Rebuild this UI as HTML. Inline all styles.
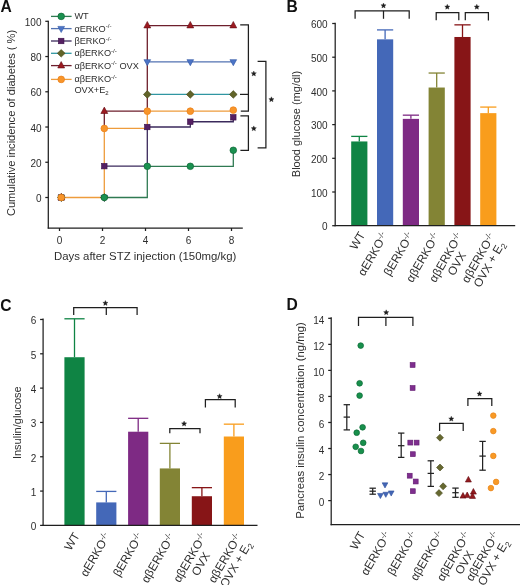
<!DOCTYPE html>
<html><head><meta charset="utf-8"><style>
html,body{margin:0;padding:0;background:#fff;}
svg{display:block;font-family:"Liberation Sans", sans-serif;will-change:transform;}
</style></head><body>
<svg width="520" height="585" viewBox="0 0 520 585">
<rect width="520" height="585" fill="#fff"/>
<text transform="translate(0.5 11.6) scale(0.93 1)" font-size="16.8" font-weight="bold" fill="#111">A</text>
<line x1="48.30" y1="20.70" x2="48.30" y2="228.60" stroke="#1f1f1f" stroke-width="1.25" />
<line x1="47.70" y1="228.00" x2="242.80" y2="228.00" stroke="#1f1f1f" stroke-width="1.25" />
<line x1="45.30" y1="197.50" x2="48.30" y2="197.50" stroke="#1f1f1f" stroke-width="1.25" />
<text x="41.50" y="202.10" font-size="10" text-anchor="end" fill="#2e2e2e" font-weight="normal" >0</text>
<line x1="45.30" y1="162.26" x2="48.30" y2="162.26" stroke="#1f1f1f" stroke-width="1.25" />
<text x="41.50" y="166.86" font-size="10" text-anchor="end" fill="#2e2e2e" font-weight="normal" >20</text>
<line x1="45.30" y1="127.02" x2="48.30" y2="127.02" stroke="#1f1f1f" stroke-width="1.25" />
<text x="41.50" y="131.62" font-size="10" text-anchor="end" fill="#2e2e2e" font-weight="normal" >40</text>
<line x1="45.30" y1="91.78" x2="48.30" y2="91.78" stroke="#1f1f1f" stroke-width="1.25" />
<text x="41.50" y="96.38" font-size="10" text-anchor="end" fill="#2e2e2e" font-weight="normal" >60</text>
<line x1="45.30" y1="56.54" x2="48.30" y2="56.54" stroke="#1f1f1f" stroke-width="1.25" />
<text x="41.50" y="61.14" font-size="10" text-anchor="end" fill="#2e2e2e" font-weight="normal" >80</text>
<line x1="45.30" y1="21.30" x2="48.30" y2="21.30" stroke="#1f1f1f" stroke-width="1.25" />
<text x="41.50" y="25.90" font-size="10" text-anchor="end" fill="#2e2e2e" font-weight="normal" >100</text>
<line x1="59.50" y1="228.00" x2="59.50" y2="231.00" stroke="#1f1f1f" stroke-width="1.25" />
<text x="59.50" y="244.20" font-size="10" text-anchor="middle" fill="#2e2e2e" font-weight="normal" >0</text>
<line x1="102.50" y1="228.00" x2="102.50" y2="231.00" stroke="#1f1f1f" stroke-width="1.25" />
<text x="102.50" y="244.20" font-size="10" text-anchor="middle" fill="#2e2e2e" font-weight="normal" >2</text>
<line x1="145.50" y1="228.00" x2="145.50" y2="231.00" stroke="#1f1f1f" stroke-width="1.25" />
<text x="145.50" y="244.20" font-size="10" text-anchor="middle" fill="#2e2e2e" font-weight="normal" >4</text>
<line x1="188.50" y1="228.00" x2="188.50" y2="231.00" stroke="#1f1f1f" stroke-width="1.25" />
<text x="188.50" y="244.20" font-size="10" text-anchor="middle" fill="#2e2e2e" font-weight="normal" >6</text>
<line x1="231.50" y1="228.00" x2="231.50" y2="231.00" stroke="#1f1f1f" stroke-width="1.25" />
<text x="231.50" y="244.20" font-size="10" text-anchor="middle" fill="#2e2e2e" font-weight="normal" >8</text>
<text x="54.00" y="260.00" font-size="11.4" text-anchor="start" fill="#2e2e2e" font-weight="normal" >Days after STZ injection (150mg/kg)</text>
<text x="15.40" y="123.00" font-size="11.1" text-anchor="middle" fill="#2e2e2e" font-weight="normal" transform="rotate(-90 15.40 123.00)" >Cumulative incidence of diabetes ( %)</text>
<polyline points="147.30,61.83 233.30,61.83" fill="none" stroke="#5272b2" stroke-width="1.3" stroke-linejoin="miter"/>
<polyline points="147.30,94.42 233.30,94.42" fill="none" stroke="#3096a2" stroke-width="1.3" stroke-linejoin="miter"/>
<polyline points="104.30,197.50 147.30,197.50 147.30,166.31 233.30,166.31 233.30,150.28" fill="none" stroke="#2f7a52" stroke-width="1.3" stroke-linejoin="miter"/>
<polyline points="104.30,166.14 147.30,166.14 147.30,127.02 190.30,127.02 190.30,121.73 233.30,121.73 233.30,117.33" fill="none" stroke="#3b2a5c" stroke-width="1.3" stroke-linejoin="miter"/>
<polyline points="104.30,128.43 104.30,111.16 147.30,111.16 147.30,25.53 233.30,25.53" fill="none" stroke="#6e1f2c" stroke-width="1.3" stroke-linejoin="miter"/>
<polyline points="61.30,197.50 104.30,197.50 104.30,128.43 147.30,128.43 147.30,111.16 233.30,111.16 233.30,110.10" fill="none" stroke="#ee9c3c" stroke-width="1.3" stroke-linejoin="miter"/>
<polygon points="57.95,195.30 64.65,195.30 61.30,201.40" fill="#4c74c6" stroke="#3158a6" stroke-width="0.6" stroke-linejoin="miter"/>
<polygon points="100.95,195.30 107.65,195.30 104.30,201.40" fill="#4c74c6" stroke="#3158a6" stroke-width="0.6" stroke-linejoin="miter"/>
<polygon points="143.95,59.63 150.65,59.63 147.30,65.73" fill="#4c74c6" stroke="#3158a6" stroke-width="0.6" stroke-linejoin="miter"/>
<polygon points="186.95,59.63 193.65,59.63 190.30,65.73" fill="#4c74c6" stroke="#3158a6" stroke-width="0.6" stroke-linejoin="miter"/>
<polygon points="229.95,59.63 236.65,59.63 233.30,65.73" fill="#4c74c6" stroke="#3158a6" stroke-width="0.6" stroke-linejoin="miter"/>
<polygon points="61.30,193.70 65.20,197.50 61.30,201.30 57.40,197.50" fill="#626429" stroke="#45481a" stroke-width="0.6" stroke-linejoin="miter"/>
<polygon points="104.30,193.70 108.20,197.50 104.30,201.30 100.40,197.50" fill="#626429" stroke="#45481a" stroke-width="0.6" stroke-linejoin="miter"/>
<polygon points="147.30,90.62 151.20,94.42 147.30,98.22 143.40,94.42" fill="#626429" stroke="#45481a" stroke-width="0.6" stroke-linejoin="miter"/>
<polygon points="190.30,90.62 194.20,94.42 190.30,98.22 186.40,94.42" fill="#626429" stroke="#45481a" stroke-width="0.6" stroke-linejoin="miter"/>
<polygon points="233.30,90.62 237.20,94.42 233.30,98.22 229.40,94.42" fill="#626429" stroke="#45481a" stroke-width="0.6" stroke-linejoin="miter"/>
<rect x="58.55" y="194.75" width="5.50" height="5.50" fill="#552063" stroke="#3a0f48" stroke-width="0.6" stroke-linejoin="miter"/>
<rect x="101.55" y="163.39" width="5.50" height="5.50" fill="#552063" stroke="#3a0f48" stroke-width="0.6" stroke-linejoin="miter"/>
<rect x="144.55" y="124.27" width="5.50" height="5.50" fill="#552063" stroke="#3a0f48" stroke-width="0.6" stroke-linejoin="miter"/>
<rect x="187.55" y="118.98" width="5.50" height="5.50" fill="#552063" stroke="#3a0f48" stroke-width="0.6" stroke-linejoin="miter"/>
<rect x="230.55" y="114.58" width="5.50" height="5.50" fill="#552063" stroke="#3a0f48" stroke-width="0.6" stroke-linejoin="miter"/>
<circle cx="61.30" cy="197.50" r="3.30" fill="#1a9150" stroke="#0e6635" stroke-width="0.7"/>
<circle cx="104.30" cy="197.50" r="3.30" fill="#1a9150" stroke="#0e6635" stroke-width="0.7"/>
<circle cx="147.30" cy="166.31" r="3.30" fill="#1a9150" stroke="#0e6635" stroke-width="0.7"/>
<circle cx="190.30" cy="166.31" r="3.30" fill="#1a9150" stroke="#0e6635" stroke-width="0.7"/>
<circle cx="233.30" cy="150.28" r="3.30" fill="#1a9150" stroke="#0e6635" stroke-width="0.7"/>
<polygon points="61.30,193.45 64.75,199.85 57.85,199.85" fill="#9c1a20" stroke="#620a12" stroke-width="0.6" stroke-linejoin="miter"/>
<polygon points="104.30,107.11 107.75,113.51 100.85,113.51" fill="#9c1a20" stroke="#620a12" stroke-width="0.6" stroke-linejoin="miter"/>
<polygon points="147.30,21.48 150.75,27.88 143.85,27.88" fill="#9c1a20" stroke="#620a12" stroke-width="0.6" stroke-linejoin="miter"/>
<polygon points="190.30,21.48 193.75,27.88 186.85,27.88" fill="#9c1a20" stroke="#620a12" stroke-width="0.6" stroke-linejoin="miter"/>
<polygon points="233.30,21.48 236.75,27.88 229.85,27.88" fill="#9c1a20" stroke="#620a12" stroke-width="0.6" stroke-linejoin="miter"/>
<circle cx="61.30" cy="197.50" r="3.35" fill="#f8952a" stroke="#e9801a" stroke-width="0.7"/>
<circle cx="104.30" cy="128.43" r="3.35" fill="#f8952a" stroke="#e9801a" stroke-width="0.7"/>
<circle cx="147.30" cy="111.16" r="3.35" fill="#f8952a" stroke="#e9801a" stroke-width="0.7"/>
<circle cx="190.30" cy="111.16" r="3.35" fill="#f8952a" stroke="#e9801a" stroke-width="0.7"/>
<circle cx="233.30" cy="110.10" r="3.35" fill="#f8952a" stroke="#e9801a" stroke-width="0.7"/>
<line x1="51.00" y1="16.40" x2="71.60" y2="16.40" stroke="#2f7a52" stroke-width="1.3" />
<circle cx="61.20" cy="16.40" r="3.30" fill="#1a9150" stroke="#0e6635" stroke-width="0.7"/>
<text x="74.40" y="19.40" font-size="9.2" text-anchor="start" fill="#2e2e2e" font-weight="normal" >WT</text>
<line x1="51.00" y1="28.60" x2="71.60" y2="28.60" stroke="#5272b2" stroke-width="1.3" />
<polygon points="57.85,26.40 64.55,26.40 61.20,32.50" fill="#4c74c6" stroke="#3158a6" stroke-width="0.6" stroke-linejoin="miter"/>
<text x="74.4" y="31.60" font-size="9.2" fill="#2e2e2e">αERKO<tspan font-size="6.2" dy="-3.4">-/-</tspan></text>
<line x1="51.00" y1="41.00" x2="71.60" y2="41.00" stroke="#3b2a5c" stroke-width="1.3" />
<rect x="58.45" y="38.25" width="5.50" height="5.50" fill="#552063" stroke="#3a0f48" stroke-width="0.6" stroke-linejoin="miter"/>
<text x="74.4" y="44.00" font-size="9.2" fill="#2e2e2e">βERKO<tspan font-size="6.2" dy="-3.4">-/-</tspan></text>
<line x1="51.00" y1="53.30" x2="71.60" y2="53.30" stroke="#3096a2" stroke-width="1.3" />
<polygon points="61.20,49.50 65.10,53.30 61.20,57.10 57.30,53.30" fill="#626429" stroke="#45481a" stroke-width="0.6" stroke-linejoin="miter"/>
<text x="74.4" y="56.30" font-size="9.2" fill="#2e2e2e">αβERKO<tspan font-size="6.2" dy="-3.4">-/-</tspan></text>
<line x1="51.00" y1="65.60" x2="71.60" y2="65.60" stroke="#6e1f2c" stroke-width="1.3" />
<polygon points="61.20,61.55 64.65,67.95 57.75,67.95" fill="#9c1a20" stroke="#620a12" stroke-width="0.6" stroke-linejoin="miter"/>
<text x="74.4" y="68.60" font-size="9.2" fill="#2e2e2e">αβERKO<tspan font-size="6.2" dy="-3.4">-/-</tspan><tspan dy="3.4"> OVX</tspan></text>
<line x1="51.00" y1="79.40" x2="71.60" y2="79.40" stroke="#ee9c3c" stroke-width="1.3" />
<circle cx="61.20" cy="79.40" r="3.35" fill="#f8952a" stroke="#e9801a" stroke-width="0.7"/>
<text x="74.4" y="82.40" font-size="9.2" fill="#2e2e2e">αβERKO<tspan font-size="6.2" dy="-3.4">-/-</tspan></text>
<text x="74.4" y="93.0" font-size="9.2" fill="#2e2e2e">OVX+E<tspan font-size="6" dy="2">2</tspan></text>
<polyline points="240.20,24.90 248.40,24.90 248.40,111.20 240.80,111.20" fill="none" stroke="#1f1f1f" stroke-width="1.25" stroke-linejoin="miter"/>
<line x1="240.00" y1="94.40" x2="248.40" y2="94.40" stroke="#1f1f1f" stroke-width="1.25" />
<polyline points="257.60,61.30 265.90,61.30 265.90,147.80 257.60,147.80" fill="none" stroke="#1f1f1f" stroke-width="1.25" stroke-linejoin="miter"/>
<polyline points="240.40,115.80 248.40,115.80 248.40,150.40 240.40,150.40" fill="none" stroke="#1f1f1f" stroke-width="1.25" stroke-linejoin="miter"/>
<polygon points="253.80,71.00 254.53,72.69 256.37,72.87 254.99,74.09 255.39,75.88 253.80,74.95 252.21,75.88 252.61,74.09 251.23,72.87 253.07,72.69" fill="#1e1e1e" stroke="#1e1e1e" stroke-width="0.35" stroke-linejoin="round"/>
<polygon points="271.40,96.80 272.13,98.49 273.97,98.67 272.59,99.89 272.99,101.68 271.40,100.75 269.81,101.68 270.21,99.89 268.83,98.67 270.67,98.49" fill="#1e1e1e" stroke="#1e1e1e" stroke-width="0.35" stroke-linejoin="round"/>
<polygon points="253.80,125.90 254.53,127.59 256.37,127.77 254.99,128.99 255.39,130.78 253.80,129.85 252.21,130.78 252.61,128.99 251.23,127.77 253.07,127.59" fill="#1e1e1e" stroke="#1e1e1e" stroke-width="0.35" stroke-linejoin="round"/>
<text transform="translate(286.6 11.8) scale(0.93 1)" font-size="16.8" font-weight="bold" fill="#111">B</text>
<line x1="332.20" y1="225.70" x2="335.20" y2="225.70" stroke="#1f1f1f" stroke-width="1.25" />
<text x="327.60" y="230.30" font-size="10" text-anchor="end" fill="#2e2e2e" font-weight="normal" >0</text>
<line x1="332.20" y1="192.00" x2="335.20" y2="192.00" stroke="#1f1f1f" stroke-width="1.25" />
<text x="327.60" y="196.60" font-size="10" text-anchor="end" fill="#2e2e2e" font-weight="normal" >100</text>
<line x1="332.20" y1="158.30" x2="335.20" y2="158.30" stroke="#1f1f1f" stroke-width="1.25" />
<text x="327.60" y="162.90" font-size="10" text-anchor="end" fill="#2e2e2e" font-weight="normal" >200</text>
<line x1="332.20" y1="124.60" x2="335.20" y2="124.60" stroke="#1f1f1f" stroke-width="1.25" />
<text x="327.60" y="129.20" font-size="10" text-anchor="end" fill="#2e2e2e" font-weight="normal" >300</text>
<line x1="332.20" y1="90.90" x2="335.20" y2="90.90" stroke="#1f1f1f" stroke-width="1.25" />
<text x="327.60" y="95.50" font-size="10" text-anchor="end" fill="#2e2e2e" font-weight="normal" >400</text>
<line x1="332.20" y1="57.20" x2="335.20" y2="57.20" stroke="#1f1f1f" stroke-width="1.25" />
<text x="327.60" y="61.80" font-size="10" text-anchor="end" fill="#2e2e2e" font-weight="normal" >500</text>
<line x1="332.20" y1="23.50" x2="335.20" y2="23.50" stroke="#1f1f1f" stroke-width="1.25" />
<text x="327.60" y="28.10" font-size="10" text-anchor="end" fill="#2e2e2e" font-weight="normal" >600</text>
<text x="300.20" y="124.00" font-size="11.0" text-anchor="middle" fill="#2e2e2e" font-weight="normal" transform="rotate(-90 300.20 124.00)" >Blood glucose (mg/dl)</text>
<rect x="351.20" y="141.45" width="16.2" height="84.25" fill="#0f8444"/>
<line x1="359.30" y1="141.45" x2="359.30" y2="136.39" stroke="#0f8444" stroke-width="1.3" />
<line x1="351.20" y1="136.39" x2="367.40" y2="136.39" stroke="#0f8444" stroke-width="1.3" />
<rect x="377.00" y="39.34" width="16.2" height="186.36" fill="#4468b8"/>
<line x1="385.10" y1="39.34" x2="385.10" y2="29.90" stroke="#4468b8" stroke-width="1.3" />
<line x1="377.00" y1="29.90" x2="393.20" y2="29.90" stroke="#4468b8" stroke-width="1.3" />
<rect x="402.80" y="118.87" width="16.2" height="106.83" fill="#7e2a84"/>
<line x1="410.90" y1="118.87" x2="410.90" y2="115.16" stroke="#7e2a84" stroke-width="1.3" />
<line x1="402.80" y1="115.16" x2="419.00" y2="115.16" stroke="#7e2a84" stroke-width="1.3" />
<rect x="428.60" y="87.53" width="16.2" height="138.17" fill="#838435"/>
<line x1="436.70" y1="87.53" x2="436.70" y2="73.04" stroke="#838435" stroke-width="1.3" />
<line x1="428.60" y1="73.04" x2="444.80" y2="73.04" stroke="#838435" stroke-width="1.3" />
<rect x="454.40" y="36.98" width="16.2" height="188.72" fill="#871517"/>
<line x1="462.50" y1="36.98" x2="462.50" y2="24.85" stroke="#871517" stroke-width="1.3" />
<line x1="454.40" y1="24.85" x2="470.60" y2="24.85" stroke="#871517" stroke-width="1.3" />
<rect x="480.20" y="113.14" width="16.2" height="112.56" fill="#f99d1c"/>
<line x1="488.30" y1="113.14" x2="488.30" y2="107.08" stroke="#f99d1c" stroke-width="1.3" />
<line x1="480.20" y1="107.08" x2="496.40" y2="107.08" stroke="#f99d1c" stroke-width="1.3" />
<line x1="335.20" y1="22.70" x2="335.20" y2="226.30" stroke="#1f1f1f" stroke-width="1.25" />
<line x1="334.60" y1="225.70" x2="515.20" y2="225.70" stroke="#1f1f1f" stroke-width="1.25" />
<polyline points="355.10,18.80 355.10,10.80 409.20,10.80 409.20,18.80" fill="none" stroke="#1f1f1f" stroke-width="1.25" stroke-linejoin="miter"/>
<line x1="383.50" y1="10.80" x2="383.50" y2="18.80" stroke="#1f1f1f" stroke-width="1.25" />
<polygon points="383.50,3.00 384.23,4.69 386.07,4.87 384.69,6.09 385.09,7.88 383.50,6.95 381.91,7.88 382.31,6.09 380.93,4.87 382.77,4.69" fill="#1e1e1e" stroke="#1e1e1e" stroke-width="0.35" stroke-linejoin="round"/>
<polyline points="436.20,20.30 436.20,12.70 458.80,12.70 458.80,20.30" fill="none" stroke="#1f1f1f" stroke-width="1.25" stroke-linejoin="miter"/>
<polygon points="447.30,4.30 448.03,5.99 449.87,6.17 448.49,7.39 448.89,9.18 447.30,8.25 445.71,9.18 446.11,7.39 444.73,6.17 446.57,5.99" fill="#1e1e1e" stroke="#1e1e1e" stroke-width="0.35" stroke-linejoin="round"/>
<polyline points="465.30,20.30 465.30,12.70 488.40,12.70 488.40,20.60" fill="none" stroke="#1f1f1f" stroke-width="1.25" stroke-linejoin="miter"/>
<polygon points="476.80,4.30 477.53,5.99 479.37,6.17 477.99,7.39 478.39,9.18 476.80,8.25 475.21,9.18 475.61,7.39 474.23,6.17 476.07,5.99" fill="#1e1e1e" stroke="#1e1e1e" stroke-width="0.35" stroke-linejoin="round"/>
<g transform="translate(365.50 234.70) rotate(-60)" font-size="11.8" fill="#2e2e2e"><text x="0" y="0" text-anchor="end">WT</text></g>
<g transform="translate(388.30 235.20) rotate(-60)" font-size="11.8" fill="#2e2e2e"><text x="0" y="0" text-anchor="end">αERKO<tspan font-size="8.2" dy="-3.6">-/-</tspan></text></g>
<g transform="translate(414.10 235.20) rotate(-60)" font-size="11.8" fill="#2e2e2e"><text x="0" y="0" text-anchor="end">βERKO<tspan font-size="8.2" dy="-3.6">-/-</tspan></text></g>
<g transform="translate(439.90 235.70) rotate(-60)" font-size="11.8" fill="#2e2e2e"><text x="0" y="0" text-anchor="end">αβERKO<tspan font-size="8.2" dy="-3.6">-/-</tspan></text></g>
<g transform="translate(463.00 235.70) rotate(-60)" font-size="11.8" fill="#2e2e2e"><text x="0" y="0" text-anchor="end">αβERKO<tspan font-size="8.2" dy="-3.6">-/-</tspan></text><text x="-27.39" y="12.50" text-anchor="middle">OVX</text></g>
<g transform="translate(495.50 236.20) rotate(-60)" font-size="11.8" fill="#2e2e2e"><text x="0" y="0" text-anchor="end">αβERKO<tspan font-size="8.2" dy="-3.6">-/-</tspan></text><text x="-27.39" y="12.50" text-anchor="middle">OVX + E<tspan font-size="8.2" dy="2.6">2</tspan></text></g>
<text transform="translate(0.2 310.5) scale(0.93 1)" font-size="16.8" font-weight="bold" fill="#111">C</text>
<line x1="40.10" y1="525.40" x2="43.10" y2="525.40" stroke="#1f1f1f" stroke-width="1.25" />
<text x="36.30" y="530.40" font-size="10" text-anchor="end" fill="#2e2e2e" font-weight="normal" >0</text>
<line x1="40.10" y1="491.08" x2="43.10" y2="491.08" stroke="#1f1f1f" stroke-width="1.25" />
<text x="36.30" y="496.08" font-size="10" text-anchor="end" fill="#2e2e2e" font-weight="normal" >1</text>
<line x1="40.10" y1="456.76" x2="43.10" y2="456.76" stroke="#1f1f1f" stroke-width="1.25" />
<text x="36.30" y="461.76" font-size="10" text-anchor="end" fill="#2e2e2e" font-weight="normal" >2</text>
<line x1="40.10" y1="422.44" x2="43.10" y2="422.44" stroke="#1f1f1f" stroke-width="1.25" />
<text x="36.30" y="427.44" font-size="10" text-anchor="end" fill="#2e2e2e" font-weight="normal" >3</text>
<line x1="40.10" y1="388.12" x2="43.10" y2="388.12" stroke="#1f1f1f" stroke-width="1.25" />
<text x="36.30" y="393.12" font-size="10" text-anchor="end" fill="#2e2e2e" font-weight="normal" >4</text>
<line x1="40.10" y1="353.80" x2="43.10" y2="353.80" stroke="#1f1f1f" stroke-width="1.25" />
<text x="36.30" y="358.80" font-size="10" text-anchor="end" fill="#2e2e2e" font-weight="normal" >5</text>
<line x1="40.10" y1="319.48" x2="43.10" y2="319.48" stroke="#1f1f1f" stroke-width="1.25" />
<text x="36.30" y="324.48" font-size="10" text-anchor="end" fill="#2e2e2e" font-weight="normal" >6</text>
<text x="20.60" y="422.70" font-size="11.0" text-anchor="middle" fill="#2e2e2e" font-weight="normal" transform="rotate(-90 20.60 422.70)" >Insulin/glucose</text>
<rect x="64.40" y="357.23" width="20.2" height="168.17" fill="#0f8444"/>
<line x1="74.50" y1="357.23" x2="74.50" y2="318.79" stroke="#0f8444" stroke-width="1.3" />
<line x1="64.40" y1="318.79" x2="84.60" y2="318.79" stroke="#0f8444" stroke-width="1.3" />
<rect x="96.20" y="502.41" width="20.2" height="22.99" fill="#4468b8"/>
<line x1="106.30" y1="502.41" x2="106.30" y2="491.42" stroke="#4468b8" stroke-width="1.3" />
<line x1="96.20" y1="491.42" x2="116.40" y2="491.42" stroke="#4468b8" stroke-width="1.3" />
<rect x="128.10" y="431.71" width="20.2" height="93.69" fill="#7e2a84"/>
<line x1="138.20" y1="431.71" x2="138.20" y2="418.32" stroke="#7e2a84" stroke-width="1.3" />
<line x1="128.10" y1="418.32" x2="148.30" y2="418.32" stroke="#7e2a84" stroke-width="1.3" />
<rect x="159.80" y="468.43" width="20.2" height="56.97" fill="#838435"/>
<line x1="169.90" y1="468.43" x2="169.90" y2="443.38" stroke="#838435" stroke-width="1.3" />
<line x1="159.80" y1="443.38" x2="180.00" y2="443.38" stroke="#838435" stroke-width="1.3" />
<rect x="191.80" y="496.23" width="20.2" height="29.17" fill="#871517"/>
<line x1="201.90" y1="496.23" x2="201.90" y2="487.65" stroke="#871517" stroke-width="1.3" />
<line x1="191.80" y1="487.65" x2="212.00" y2="487.65" stroke="#871517" stroke-width="1.3" />
<rect x="223.80" y="436.51" width="20.2" height="88.89" fill="#f99d1c"/>
<line x1="233.90" y1="436.51" x2="233.90" y2="424.16" stroke="#f99d1c" stroke-width="1.3" />
<line x1="223.80" y1="424.16" x2="244.00" y2="424.16" stroke="#f99d1c" stroke-width="1.3" />
<line x1="43.10" y1="318.60" x2="43.10" y2="526.00" stroke="#1f1f1f" stroke-width="1.25" />
<line x1="42.50" y1="525.40" x2="257.50" y2="525.40" stroke="#1f1f1f" stroke-width="1.25" />
<polyline points="73.70,315.00 73.70,307.70 137.10,307.70 137.10,315.00" fill="none" stroke="#1f1f1f" stroke-width="1.25" stroke-linejoin="miter"/>
<line x1="106.30" y1="307.70" x2="106.30" y2="315.00" stroke="#1f1f1f" stroke-width="1.25" />
<polygon points="105.40,300.50 106.13,302.19 107.97,302.37 106.59,303.59 106.99,305.38 105.40,304.45 103.81,305.38 104.21,303.59 102.83,302.37 104.67,302.19" fill="#1e1e1e" stroke="#1e1e1e" stroke-width="0.35" stroke-linejoin="round"/>
<polyline points="169.80,433.30 169.80,428.50 200.00,428.50 200.00,433.30" fill="none" stroke="#1f1f1f" stroke-width="1.25" stroke-linejoin="miter"/>
<polygon points="184.10,421.10 184.83,422.79 186.67,422.97 185.29,424.19 185.69,425.98 184.10,425.05 182.51,425.98 182.91,424.19 181.53,422.97 183.37,422.79" fill="#1e1e1e" stroke="#1e1e1e" stroke-width="0.35" stroke-linejoin="round"/>
<polyline points="205.40,407.50 205.40,399.70 235.20,399.70 235.20,407.50" fill="none" stroke="#1f1f1f" stroke-width="1.25" stroke-linejoin="miter"/>
<polygon points="219.60,393.70 220.33,395.39 222.17,395.57 220.79,396.79 221.19,398.58 219.60,397.65 218.01,398.58 218.41,396.79 217.03,395.57 218.87,395.39" fill="#1e1e1e" stroke="#1e1e1e" stroke-width="0.35" stroke-linejoin="round"/>
<g transform="translate(80.00 535.40) rotate(-60)" font-size="11.8" fill="#2e2e2e"><text x="0" y="0" text-anchor="end">WT</text></g>
<g transform="translate(110.70 535.90) rotate(-60)" font-size="11.8" fill="#2e2e2e"><text x="0" y="0" text-anchor="end">αERKO<tspan font-size="8.2" dy="-3.6">-/-</tspan></text></g>
<g transform="translate(143.40 535.90) rotate(-60)" font-size="11.8" fill="#2e2e2e"><text x="0" y="0" text-anchor="end">βERKO<tspan font-size="8.2" dy="-3.6">-/-</tspan></text></g>
<g transform="translate(175.10 536.40) rotate(-60)" font-size="11.8" fill="#2e2e2e"><text x="0" y="0" text-anchor="end">αβERKO<tspan font-size="8.2" dy="-3.6">-/-</tspan></text></g>
<g transform="translate(207.10 535.90) rotate(-60)" font-size="11.8" fill="#2e2e2e"><text x="0" y="0" text-anchor="end">αβERKO<tspan font-size="8.2" dy="-3.6">-/-</tspan></text><text x="-27.39" y="12.50" text-anchor="middle">OVX</text></g>
<g transform="translate(242.10 536.40) rotate(-60)" font-size="11.8" fill="#2e2e2e"><text x="0" y="0" text-anchor="end">αβERKO<tspan font-size="8.2" dy="-3.6">-/-</tspan></text><text x="-27.39" y="12.50" text-anchor="middle">OVX + E<tspan font-size="8.2" dy="2.6">2</tspan></text></g>
<text transform="translate(286.4 309.6) scale(0.93 1)" font-size="16.8" font-weight="bold" fill="#111">D</text>
<line x1="331.20" y1="317.20" x2="331.20" y2="525.20" stroke="#1f1f1f" stroke-width="1.25" />
<line x1="330.60" y1="524.60" x2="520.00" y2="524.60" stroke="#1f1f1f" stroke-width="1.25" />
<line x1="328.20" y1="500.60" x2="331.20" y2="500.60" stroke="#1f1f1f" stroke-width="1.25" />
<text x="324.30" y="505.80" font-size="10" text-anchor="end" fill="#2e2e2e" font-weight="normal" >0</text>
<line x1="328.20" y1="474.56" x2="331.20" y2="474.56" stroke="#1f1f1f" stroke-width="1.25" />
<text x="324.30" y="479.76" font-size="10" text-anchor="end" fill="#2e2e2e" font-weight="normal" >2</text>
<line x1="328.20" y1="448.52" x2="331.20" y2="448.52" stroke="#1f1f1f" stroke-width="1.25" />
<text x="324.30" y="453.72" font-size="10" text-anchor="end" fill="#2e2e2e" font-weight="normal" >4</text>
<line x1="328.20" y1="422.48" x2="331.20" y2="422.48" stroke="#1f1f1f" stroke-width="1.25" />
<text x="324.30" y="427.68" font-size="10" text-anchor="end" fill="#2e2e2e" font-weight="normal" >6</text>
<line x1="328.20" y1="396.44" x2="331.20" y2="396.44" stroke="#1f1f1f" stroke-width="1.25" />
<text x="324.30" y="401.64" font-size="10" text-anchor="end" fill="#2e2e2e" font-weight="normal" >8</text>
<line x1="328.20" y1="370.40" x2="331.20" y2="370.40" stroke="#1f1f1f" stroke-width="1.25" />
<text x="324.30" y="375.60" font-size="10" text-anchor="end" fill="#2e2e2e" font-weight="normal" >10</text>
<line x1="328.20" y1="344.36" x2="331.20" y2="344.36" stroke="#1f1f1f" stroke-width="1.25" />
<text x="324.30" y="349.56" font-size="10" text-anchor="end" fill="#2e2e2e" font-weight="normal" >12</text>
<line x1="328.20" y1="318.32" x2="331.20" y2="318.32" stroke="#1f1f1f" stroke-width="1.25" />
<text x="324.30" y="323.52" font-size="10" text-anchor="end" fill="#2e2e2e" font-weight="normal" >14</text>
<text x="304.20" y="420.50" font-size="11.35" text-anchor="middle" fill="#2e2e2e" font-weight="normal" transform="rotate(-90 304.20 420.50)" >Pancreas insulin concentration (ng/mg)</text>
<line x1="346.80" y1="404.70" x2="346.80" y2="429.90" stroke="#222" stroke-width="1.25" />
<line x1="343.60" y1="404.70" x2="350.00" y2="404.70" stroke="#222" stroke-width="1.25" />
<line x1="343.60" y1="429.90" x2="350.00" y2="429.90" stroke="#222" stroke-width="1.25" />
<line x1="343.60" y1="417.10" x2="350.00" y2="417.10" stroke="#222" stroke-width="1.25" />
<line x1="372.70" y1="488.20" x2="372.70" y2="494.20" stroke="#222" stroke-width="1.25" />
<line x1="369.50" y1="488.20" x2="375.90" y2="488.20" stroke="#222" stroke-width="1.25" />
<line x1="369.50" y1="494.20" x2="375.90" y2="494.20" stroke="#222" stroke-width="1.25" />
<line x1="369.50" y1="491.20" x2="375.90" y2="491.20" stroke="#222" stroke-width="1.25" />
<line x1="401.20" y1="433.10" x2="401.20" y2="457.40" stroke="#222" stroke-width="1.25" />
<line x1="398.00" y1="433.10" x2="404.40" y2="433.10" stroke="#222" stroke-width="1.25" />
<line x1="398.00" y1="457.40" x2="404.40" y2="457.40" stroke="#222" stroke-width="1.25" />
<line x1="398.00" y1="445.70" x2="404.40" y2="445.70" stroke="#222" stroke-width="1.25" />
<line x1="430.80" y1="460.80" x2="430.80" y2="486.40" stroke="#222" stroke-width="1.25" />
<line x1="427.60" y1="460.80" x2="434.00" y2="460.80" stroke="#222" stroke-width="1.25" />
<line x1="427.60" y1="486.40" x2="434.00" y2="486.40" stroke="#222" stroke-width="1.25" />
<line x1="427.60" y1="473.40" x2="434.00" y2="473.40" stroke="#222" stroke-width="1.25" />
<line x1="455.50" y1="488.10" x2="455.50" y2="497.30" stroke="#222" stroke-width="1.25" />
<line x1="452.30" y1="488.10" x2="458.70" y2="488.10" stroke="#222" stroke-width="1.25" />
<line x1="452.30" y1="497.30" x2="458.70" y2="497.30" stroke="#222" stroke-width="1.25" />
<line x1="452.30" y1="492.70" x2="458.70" y2="492.70" stroke="#222" stroke-width="1.25" />
<line x1="482.60" y1="441.40" x2="482.60" y2="470.20" stroke="#222" stroke-width="1.25" />
<line x1="479.40" y1="441.40" x2="485.80" y2="441.40" stroke="#222" stroke-width="1.25" />
<line x1="479.40" y1="470.20" x2="485.80" y2="470.20" stroke="#222" stroke-width="1.25" />
<line x1="479.40" y1="456.10" x2="485.80" y2="456.10" stroke="#222" stroke-width="1.25" />
<circle cx="360.70" cy="345.60" r="2.85" fill="#18904c" stroke="#0d6a36" stroke-width="0.7"/>
<circle cx="359.60" cy="383.30" r="2.85" fill="#18904c" stroke="#0d6a36" stroke-width="0.7"/>
<circle cx="359.60" cy="395.60" r="2.85" fill="#18904c" stroke="#0d6a36" stroke-width="0.7"/>
<circle cx="362.60" cy="427.30" r="2.85" fill="#18904c" stroke="#0d6a36" stroke-width="0.7"/>
<circle cx="356.70" cy="432.70" r="2.85" fill="#18904c" stroke="#0d6a36" stroke-width="0.7"/>
<circle cx="363.20" cy="442.80" r="2.85" fill="#18904c" stroke="#0d6a36" stroke-width="0.7"/>
<circle cx="355.70" cy="446.80" r="2.85" fill="#18904c" stroke="#0d6a36" stroke-width="0.7"/>
<circle cx="361.00" cy="451.00" r="2.85" fill="#18904c" stroke="#0d6a36" stroke-width="0.7"/>
<polygon points="382.15,482.85 387.85,482.85 385.00,487.95" fill="#4366b6" stroke="#2d4f9a" stroke-width="0.6" stroke-linejoin="miter"/>
<polygon points="377.55,493.45 383.25,493.45 380.40,498.55" fill="#4366b6" stroke="#2d4f9a" stroke-width="0.6" stroke-linejoin="miter"/>
<polygon points="382.95,492.25 388.65,492.25 385.80,497.35" fill="#4366b6" stroke="#2d4f9a" stroke-width="0.6" stroke-linejoin="miter"/>
<polygon points="388.35,490.95 394.05,490.95 391.20,496.05" fill="#4366b6" stroke="#2d4f9a" stroke-width="0.6" stroke-linejoin="miter"/>
<rect x="410.15" y="362.55" width="4.90" height="4.90" fill="#7e2e8e" stroke="#621a70" stroke-width="0.6" stroke-linejoin="miter"/>
<rect x="410.15" y="385.55" width="4.90" height="4.90" fill="#7e2e8e" stroke="#621a70" stroke-width="0.6" stroke-linejoin="miter"/>
<rect x="407.85" y="440.15" width="4.90" height="4.90" fill="#7e2e8e" stroke="#621a70" stroke-width="0.6" stroke-linejoin="miter"/>
<rect x="414.15" y="440.15" width="4.90" height="4.90" fill="#7e2e8e" stroke="#621a70" stroke-width="0.6" stroke-linejoin="miter"/>
<rect x="410.35" y="451.75" width="4.90" height="4.90" fill="#7e2e8e" stroke="#621a70" stroke-width="0.6" stroke-linejoin="miter"/>
<rect x="407.25" y="473.25" width="4.90" height="4.90" fill="#7e2e8e" stroke="#621a70" stroke-width="0.6" stroke-linejoin="miter"/>
<rect x="413.25" y="479.05" width="4.90" height="4.90" fill="#7e2e8e" stroke="#621a70" stroke-width="0.6" stroke-linejoin="miter"/>
<rect x="410.35" y="488.75" width="4.90" height="4.90" fill="#7e2e8e" stroke="#621a70" stroke-width="0.6" stroke-linejoin="miter"/>
<polygon points="440.00,434.20 443.50,437.70 440.00,441.20 436.50,437.70" fill="#666830" stroke="#4a4c1e" stroke-width="0.6" stroke-linejoin="miter"/>
<polygon points="440.00,464.00 443.50,467.50 440.00,471.00 436.50,467.50" fill="#666830" stroke="#4a4c1e" stroke-width="0.6" stroke-linejoin="miter"/>
<polygon points="443.10,482.80 446.60,486.30 443.10,489.80 439.60,486.30" fill="#666830" stroke="#4a4c1e" stroke-width="0.6" stroke-linejoin="miter"/>
<polygon points="439.00,489.60 442.50,493.10 439.00,496.60 435.50,493.10" fill="#666830" stroke="#4a4c1e" stroke-width="0.6" stroke-linejoin="miter"/>
<polygon points="468.40,476.40 471.40,482.00 465.40,482.00" fill="#931a1e" stroke="#650a10" stroke-width="0.6" stroke-linejoin="miter"/>
<polygon points="463.00,492.50 466.00,498.10 460.00,498.10" fill="#931a1e" stroke="#650a10" stroke-width="0.6" stroke-linejoin="miter"/>
<polygon points="467.20,492.00 470.20,497.60 464.20,497.60" fill="#931a1e" stroke="#650a10" stroke-width="0.6" stroke-linejoin="miter"/>
<polygon points="473.40,488.50 476.40,494.10 470.40,494.10" fill="#931a1e" stroke="#650a10" stroke-width="0.6" stroke-linejoin="miter"/>
<polygon points="472.50,492.80 475.50,498.40 469.50,498.40" fill="#931a1e" stroke="#650a10" stroke-width="0.6" stroke-linejoin="miter"/>
<circle cx="493.30" cy="415.60" r="2.80" fill="#f89a26" stroke="#e8841a" stroke-width="0.7"/>
<circle cx="493.30" cy="431.10" r="2.80" fill="#f89a26" stroke="#e8841a" stroke-width="0.7"/>
<circle cx="493.30" cy="455.90" r="2.80" fill="#f89a26" stroke="#e8841a" stroke-width="0.7"/>
<circle cx="496.10" cy="481.90" r="2.80" fill="#f89a26" stroke="#e8841a" stroke-width="0.7"/>
<circle cx="490.90" cy="488.10" r="2.80" fill="#f89a26" stroke="#e8841a" stroke-width="0.7"/>
<polyline points="358.50,326.00 358.50,317.40 412.90,317.40 412.90,326.00" fill="none" stroke="#1f1f1f" stroke-width="1.25" stroke-linejoin="miter"/>
<line x1="385.90" y1="317.40" x2="385.90" y2="326.00" stroke="#1f1f1f" stroke-width="1.25" />
<polygon points="386.20,309.80 386.93,311.49 388.77,311.67 387.39,312.89 387.79,314.68 386.20,313.75 384.61,314.68 385.01,312.89 383.63,311.67 385.47,311.49" fill="#1e1e1e" stroke="#1e1e1e" stroke-width="0.35" stroke-linejoin="round"/>
<polyline points="439.60,431.00 439.60,423.40 463.20,423.40 463.20,431.00" fill="none" stroke="#1f1f1f" stroke-width="1.25" stroke-linejoin="miter"/>
<polygon points="451.30,416.20 452.03,417.89 453.87,418.07 452.49,419.29 452.89,421.08 451.30,420.15 449.71,421.08 450.11,419.29 448.73,418.07 450.57,417.89" fill="#1e1e1e" stroke="#1e1e1e" stroke-width="0.35" stroke-linejoin="round"/>
<polyline points="467.90,406.00 467.90,398.60 491.80,398.60 491.80,406.00" fill="none" stroke="#1f1f1f" stroke-width="1.25" stroke-linejoin="miter"/>
<polygon points="479.50,391.20 480.23,392.89 482.07,393.07 480.69,394.29 481.09,396.08 479.50,395.15 477.91,396.08 478.31,394.29 476.93,393.07 478.77,392.89" fill="#1e1e1e" stroke="#1e1e1e" stroke-width="0.35" stroke-linejoin="round"/>
<g transform="translate(365.70 534.60) rotate(-60)" font-size="11.8" fill="#2e2e2e"><text x="0" y="0" text-anchor="end">WT</text></g>
<g transform="translate(391.30 534.60) rotate(-60)" font-size="11.8" fill="#2e2e2e"><text x="0" y="0" text-anchor="end">αERKO<tspan font-size="8.2" dy="-3.6">-/-</tspan></text></g>
<g transform="translate(417.70 534.60) rotate(-60)" font-size="11.8" fill="#2e2e2e"><text x="0" y="0" text-anchor="end">βERKO<tspan font-size="8.2" dy="-3.6">-/-</tspan></text></g>
<g transform="translate(444.20 534.10) rotate(-60)" font-size="11.8" fill="#2e2e2e"><text x="0" y="0" text-anchor="end">αβERKO<tspan font-size="8.2" dy="-3.6">-/-</tspan></text></g>
<g transform="translate(470.70 534.60) rotate(-60)" font-size="11.8" fill="#2e2e2e"><text x="0" y="0" text-anchor="end">αβERKO<tspan font-size="8.2" dy="-3.6">-/-</tspan></text><text x="-27.39" y="12.50" text-anchor="middle">OVX</text></g>
<g transform="translate(499.70 534.60) rotate(-60)" font-size="11.8" fill="#2e2e2e"><text x="0" y="0" text-anchor="end">αβERKO<tspan font-size="8.2" dy="-3.6">-/-</tspan></text><text x="-27.39" y="12.50" text-anchor="middle">OVX + E<tspan font-size="8.2" dy="2.6">2</tspan></text></g>
</svg>
</body></html>
